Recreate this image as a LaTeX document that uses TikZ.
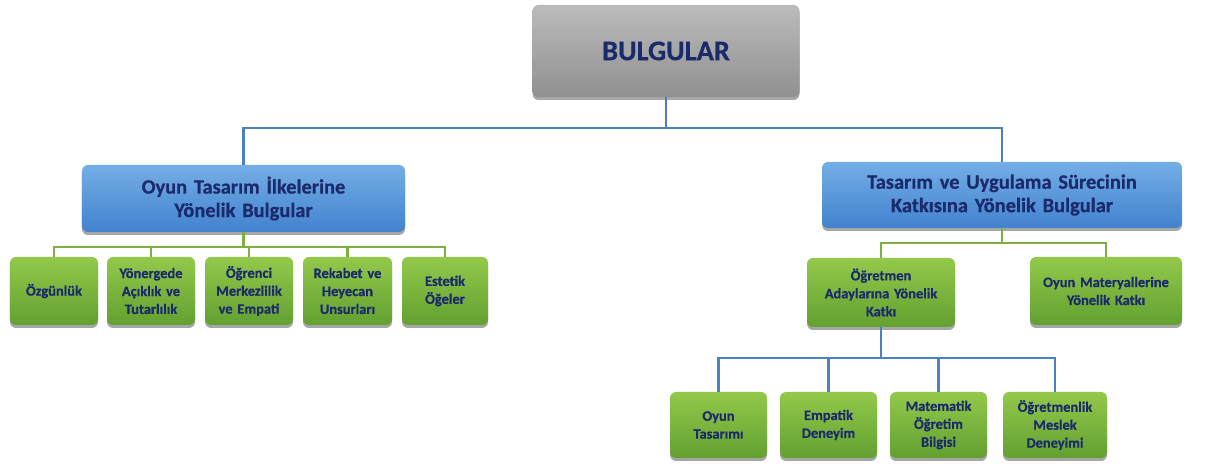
\documentclass[tikz,border=0pt]{standalone}
\usepackage{fontspec}
\setmainfont{Carlito}[BoldFeatures={FakeBold=0.6}]
\usetikzlibrary{shadows}
\definecolor{navy}{HTML}{1B2A6B}
\definecolor{greytop}{HTML}{BBBBBB}
\definecolor{greybot}{HTML}{909090}
\definecolor{bluetop}{HTML}{74AEE6}
\definecolor{bluebot}{HTML}{4282CE}
\definecolor{greentop}{HTML}{93C94B}
\definecolor{greenbot}{HTML}{62A030}
\definecolor{blueline}{HTML}{4C80BE}
\definecolor{greenline}{HTML}{7CB040}
\begin{document}
\begin{tikzpicture}[x=1bp,y=-1bp,
  box/.style={rounded corners=6bp, inner sep=2bp, align=center, text=navy,
    drop shadow={shadow xshift=0bp, shadow yshift=-3bp, opacity=0.35, fill=black}},
  topbox/.style={box, top color=greytop, bottom color=greybot,
    minimum width=267bp, minimum height=92bp, font=\bfseries\fontsize{28.5}{32}\selectfont},
  bluebox/.style={box, top color=bluetop, bottom color=bluebot,
    font=\bfseries\fontsize{20.5}{23.5}\selectfont},
  greenbox/.style={box, top color=greentop, bottom color=greenbot,
    font=\bfseries\fontsize{14.5}{18}\selectfont},
  bline/.style={draw=blueline, line width=2.5bp},
  gline/.style={draw=greenline, line width=2.5bp}]
\useasboundingbox (0,0) rectangle (1208,470);
\fill[white] (0,0) rectangle (1208,470);

\node[topbox] (top) at (666,51) {BULGULAR};

\node[bluebox, text width=319bp, minimum height=67bp] (L) at (243.5,198.5)
  {Oyun Tasarım İlkelerine\\Yönelik Bulgular};
\node[bluebox, text width=356bp, minimum height=66bp] (R) at (1002,195)
  {Tasarım ve Uygulama Sürecinin\\Katkısına Yönelik Bulgular};

\node[greenbox, text width=84bp, minimum height=68bp] (g1) at (54,291) {Özgünlük};
\node[greenbox, text width=84bp, minimum height=68bp] (g2) at (151,291) {Yönergede\\Açıklık ve\\Tutarlılık};
\node[greenbox, text width=84bp, minimum height=68bp] (g3) at (249,291) {Öğrenci\\Merkezlilik\\ve Empati};
\node[greenbox, text width=85bp, minimum height=68bp] (g4) at (347.5,291) {Rekabet ve\\Heyecan\\Unsurları};
\node[greenbox, text width=82bp, minimum height=68bp] (g5) at (445,291) {Estetik\\Öğeler};

\node[greenbox, text width=144bp, minimum height=69bp] (ta) at (881,292.5) {Öğretmen\\Adaylarına Yönelik\\Katkı};
\node[greenbox, text width=148bp, minimum height=68bp] (om) at (1106,291) {Oyun Materyallerine\\Yönelik Katkı};

\node[greenbox, text width=93bp, minimum height=66bp] (b1) at (718.5,425) {Oyun\\Tasarımı};
\node[greenbox, text width=93bp, minimum height=66bp] (b2) at (828.5,425) {Empatik\\Deneyim};
\node[greenbox, text width=93bp, minimum height=66bp] (b3) at (938.5,425) {Matematik\\Öğretim\\Bilgisi};
\node[greenbox, text width=100bp, minimum height=66bp] (b4) at (1055,425) {Öğretmenlik\\Meslek\\Deneyimi};

% connectors
\draw[bline] (top.south) -- ++(0,31) coordinate (j0);
\draw[bline] (j0) -| (L.north);
\draw[bline] (j0) -| (R.north);

\draw[gline] (L.south) -- ++(0,15) coordinate (j1);
\foreach \c in {g1,g2,g3,g4,g5} \draw[gline] (j1) -| (\c.north);

\draw[gline] (R.south) -- ++(0,15) coordinate (j2);
\draw[gline] (j2) -| (ta.north);
\draw[gline] (j2) -| (om.north);

\draw[bline] (ta.south) -- ++(0,31) coordinate (j3);
\foreach \c in {b1,b2,b3,b4} \draw[bline] (j3) -| (\c.north);
\end{tikzpicture}
\end{document}
